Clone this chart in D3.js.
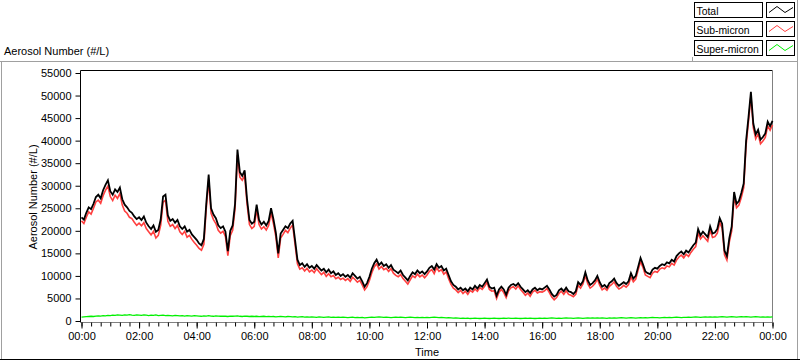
<!DOCTYPE html>
<html><head><meta charset="utf-8">
<script src="https://cdn.jsdelivr.net/npm/d3@7"></script>
<style>
body{margin:0;background:#fff}
svg{display:block}
text{font-family:"Liberation Sans",Arial,sans-serif;fill:#000}
</style>
</head><body>
<svg id="c" width="800" height="361"></svg>
<script>
// ---------- DATA ----------
const stepMinutes = 5;
const total = [
23000,22500,24000,25200,24800,26000,27500,28000,27200,29000,30200,31200,
28800,28000,29200,28600,29600,27000,25800,25200,24400,24000,23200,22600,
23000,22400,23200,21800,21000,20400,21200,19800,20200,22500,27600,28000,
23400,22200,22600,21800,22400,21000,20400,21000,19800,20200,19200,18600,
18000,17200,16800,18200,26000,32500,25000,23600,22800,21200,20600,21000,
19800,15500,20000,21200,26000,38000,33000,32200,33400,27000,22400,21600,
22000,25800,22400,21400,22000,21200,22200,25000,22600,19600,15000,19400,
20200,21000,20600,21600,22200,18000,13600,12400,12800,12000,12600,11800,
12200,11600,12400,11800,11200,11600,10800,11400,10600,11000,10200,10600,
10000,10400,9800,10200,9600,10600,10000,9400,9800,8800,7600,8400,
9800,11600,12800,13600,12400,13000,12200,12600,11800,12400,11400,11000,
10600,11200,10200,9600,9000,10000,10800,10400,11200,10600,11000,10400,
11000,11800,12200,11400,12600,11800,12200,11200,11600,10200,8800,8000,
7600,7000,7400,6800,7200,6600,7400,7000,7800,7200,8000,7600,
8400,9200,7600,7200,7400,5600,7000,7600,7000,5800,7400,8000,
8200,7800,8400,7600,7000,6400,6800,6200,7000,7400,6800,7200,
7000,7400,7800,7000,6000,5400,5800,6800,7200,6600,7400,6600,
6400,6000,6600,8600,8000,8800,10800,9000,8000,8400,9000,10000,
8600,7600,8000,7400,8400,8800,9400,8400,7800,8200,8600,8200,
8800,10600,9400,10000,12000,14000,12600,11000,10600,10400,11400,11800,
11600,12200,12600,12400,13000,12800,13600,13200,14400,15000,15400,14800,
15600,15200,16000,16800,17400,20400,19000,19800,19200,18600,21000,19400,
19600,20400,22800,21600,15600,14400,18400,21000,28600,26000,26600,28400,
30500,40000,45200,50800,43800,41400,42400,40200,40800,41600,44200,43200,
44400];
const subMicron = [
22200,21600,23000,24200,23700,25000,26400,26800,26100,27800,29000,29900,
27600,26700,27900,27200,28300,25700,24400,23900,23000,22700,21900,21200,
21700,21100,21800,20500,19800,19100,19900,18400,19000,21200,26300,26800,
22100,21000,21400,20500,21200,19800,19200,19900,18600,19000,18100,17400,
16800,16100,15700,17000,24900,31300,23900,22500,21600,20100,19500,19900,
18700,14500,18900,20100,24900,36800,31900,31200,32300,25900,21400,20500,
21000,24700,21400,20400,20900,20200,21200,24000,21600,18700,14000,18400,
19200,20100,19600,20600,21300,17000,12700,11500,11800,11100,11700,10900,
11300,10700,11600,10900,10300,10800,9900,10500,9800,10100,9400,9700,
9200,9500,9000,9400,8800,9700,9200,8600,9000,8000,6900,7600,
9000,10700,12000,12700,11500,12100,11400,11700,11000,11600,10600,10100,
9800,10300,9400,8800,8200,9100,10000,9600,10400,9800,10200,9600,
10200,11000,11400,10500,11800,11000,11400,10400,10900,9400,8100,7300,
6900,6300,6800,6100,6600,5900,6800,6400,7100,6600,7400,7000,
7700,8600,7000,6600,6700,5000,6400,7000,6300,5200,6700,7400,
7600,7100,7800,7000,6400,5700,6200,5500,6400,6800,6200,6500,
6400,6700,7200,6300,5300,4700,5200,6100,6600,5900,6700,5900,
5700,5400,5900,7900,7300,8200,10100,8300,7300,7700,8300,9300,
7900,6900,7300,6800,7700,8100,8700,7700,7100,7400,7900,7500,
8100,9800,8700,9300,11300,13200,11900,10200,9900,9600,10600,11000,
10800,11500,11800,11600,12200,12000,12800,12400,13500,14200,14600,14000,
14800,14300,15200,15900,16500,19500,18200,18900,18300,17700,20100,18500,
18700,19500,21900,20600,14700,13500,17500,20000,27700,25100,25700,27400,
29600,39000,44300,49900,42900,40400,41500,39300,39900,40700,43300,42300,
43500];
const superMicron = [
850,900,950,1000,1050,1000,1100,1150,1100,1200,1150,1250,
1200,1300,1250,1350,1300,1250,1350,1300,1400,1300,1250,1350,
1300,1250,1350,1300,1200,1300,1250,1350,1200,1250,1300,1200,
1250,1200,1150,1250,1200,1150,1200,1100,1200,1150,1100,1200,
1150,1100,1050,1150,1100,1200,1100,1050,1150,1100,1050,1100,
1050,1000,1100,1050,1100,1150,1050,1000,1100,1050,1000,1050,
1000,1050,950,1000,1050,950,1000,950,1000,900,950,1000,
950,900,1000,950,900,950,850,900,950,850,900,850,
900,850,800,900,850,800,850,900,800,850,800,850,
800,850,800,750,800,850,750,800,750,800,700,750,
800,850,800,850,900,850,800,850,800,750,800,850,
800,850,800,750,800,850,800,750,800,750,800,750,
800,750,800,850,800,750,800,750,700,750,700,650,
700,650,600,650,600,650,550,600,650,600,550,600,
650,600,550,600,650,600,550,600,650,600,650,600,
600,650,600,550,600,650,600,650,600,550,600,650,
600,650,600,650,700,650,600,650,600,650,700,650,
650,600,650,700,650,600,650,700,650,700,650,700,
650,700,650,600,700,650,700,650,700,750,700,650,
700,750,700,650,700,750,700,750,700,750,800,750,
750,700,750,800,750,800,750,800,850,800,750,800,
800,850,800,850,900,850,800,850,900,850,900,850,
900,850,900,950,900,850,900,950,900,850,900,950,
900,950,900,850,900,950,900,850,900,850,900,850,
900];
const seriesNames = ["Total", "Sub-micron", "Super-micron"];
const seriesColors = ["#000000", "#ff3f3f", "#00f000"];
const yTickValues = [0,5000,10000,15000,20000,25000,30000,35000,40000,45000,50000,55000];
const xMajorHours = [0,2,4,6,8,10,12,14,16,18,20,22,24];
const xMajorLabels = ["00:00","02:00","04:00","06:00","08:00","10:00","12:00","14:00","16:00","18:00","20:00","22:00","00:00"];
const xMinorHours = d3.range(0, 24.001, 1/3);
const yTitle = "Aerosol Number (#/L)";
const xTitle = "Time";

// ---------- LAYOUT ----------
const svg = d3.select("#c");
const L = 81.5, R = 772.5, T = 73, B = 321;
const x = d3.scaleLinear().domain([0, 24]).range([L, R]);
const y = d3.scaleLinear().domain([0, 55000]).range([B, T]);
const hours = total.map((_, i) => i * stepMinutes / 60);

// outer panel frame
svg.append("line").attr("x1",0).attr("x2",798).attr("y1",61.5).attr("y2",61.5).attr("stroke","#a0a0a0");
svg.append("line").attr("x1",1.5).attr("x2",1.5).attr("y1",61.5).attr("y2",359).attr("stroke","#a0a0a0");
svg.append("line").attr("x1",0).attr("x2",800).attr("y1",359.5).attr("y2",359.5).attr("stroke","#000");
svg.append("line").attr("x1",797.5).attr("x2",797.5).attr("y1",0).attr("y2",359).attr("stroke","#a0a0a0");
svg.append("line").attr("x1",692.5).attr("x2",692.5).attr("y1",57).attr("y2",61.5).attr("stroke","#a0a0a0");

// plot frame
svg.append("line").attr("x1",80.5).attr("x2",772.5).attr("y1",70.5).attr("y2",70.5).attr("stroke","#000");
svg.append("line").attr("x1",772.5).attr("x2",772.5).attr("y1",70.5).attr("y2",322.5).attr("stroke","#808080");

// series
const lineGen = vals => d3.line().x((d, i) => x(hours[i])).y(d => y(d))(vals);
const series = [total, subMicron, superMicron];
const widths = [1.8, 1.6, 1.3];
[2, 1, 0].forEach(k => {
  svg.append("path").attr("d", lineGen(series[k])).attr("fill", "none")
    .attr("stroke", seriesColors[k]).attr("stroke-width", widths[k]).attr("stroke-linejoin","miter");
});

// y axis
const yAxis = svg.append("g").attr("transform", "translate(80.5,0)")
  .call(d3.axisLeft(y).tickValues(yTickValues).tickFormat(d3.format("d")).tickSize(5).tickPadding(4));
yAxis.select(".domain").attr("d", `M0,70.5V322.5`).attr("stroke", "#000");
yAxis.selectAll(".tick line").attr("stroke", "#000");
yAxis.selectAll("text").attr("font-size", "11px").attr("font-family", '"Liberation Sans",Arial,sans-serif');

// x axis
const xAxisMinor = svg.append("g").attr("transform", "translate(0,322.5)")
  .call(d3.axisBottom(x).tickValues(xMinorHours).tickFormat("").tickSize(4).tickSizeOuter(0));
xAxisMinor.select(".domain").attr("d", `M80.5,0H772.5`).attr("stroke", "#808080");
xAxisMinor.selectAll(".tick line").attr("stroke", "#000");
const xAxis = svg.append("g").attr("transform", "translate(0,322.5)")
  .call(d3.axisBottom(x).tickValues(xMajorHours).tickFormat((d, i) => xMajorLabels[i]).tickSize(6).tickPadding(4));
xAxis.select(".domain").remove();
xAxis.selectAll(".tick line").attr("stroke", "#000");
xAxis.selectAll("text").attr("font-size", "11px").attr("font-family", '"Liberation Sans",Arial,sans-serif');

// titles
svg.append("text").attr("x", 4).attr("y", 55).attr("font-size", "11px").text(yTitle);
svg.append("text").attr("transform", `translate(37,${(T + B) / 2}) rotate(-90)`)
  .attr("text-anchor", "middle").attr("font-size", "11px").text(yTitle);
svg.append("text").attr("x", (L + R) / 2).attr("y", 356).attr("text-anchor", "middle")
  .attr("font-size", "11px").text(xTitle);

// legend
const legTop = [2.5, 21.5, 40.5];
seriesNames.forEach((name, k) => {
  const g = svg.append("g").attr("transform", `translate(0,${legTop[k]})`);
  g.append("rect").attr("x", 694.5).attr("y", 0).attr("width", 68).attr("height", 15)
    .attr("fill", "#fff").attr("stroke", "#000");
  g.append("text").attr("x", 696.5).attr("y", 12).attr("font-size", "10.4px").text(name);
  g.append("rect").attr("x", 766.5).attr("y", 0).attr("width", 28).attr("height", 15)
    .attr("fill", "#fff").attr("stroke", "#000");
  g.append("path").attr("d", "M769,10L777,4L785,10L793,5").attr("fill", "none")
    .attr("stroke", seriesColors[k]).attr("stroke-width", 1);
});
</script>
</body></html>
